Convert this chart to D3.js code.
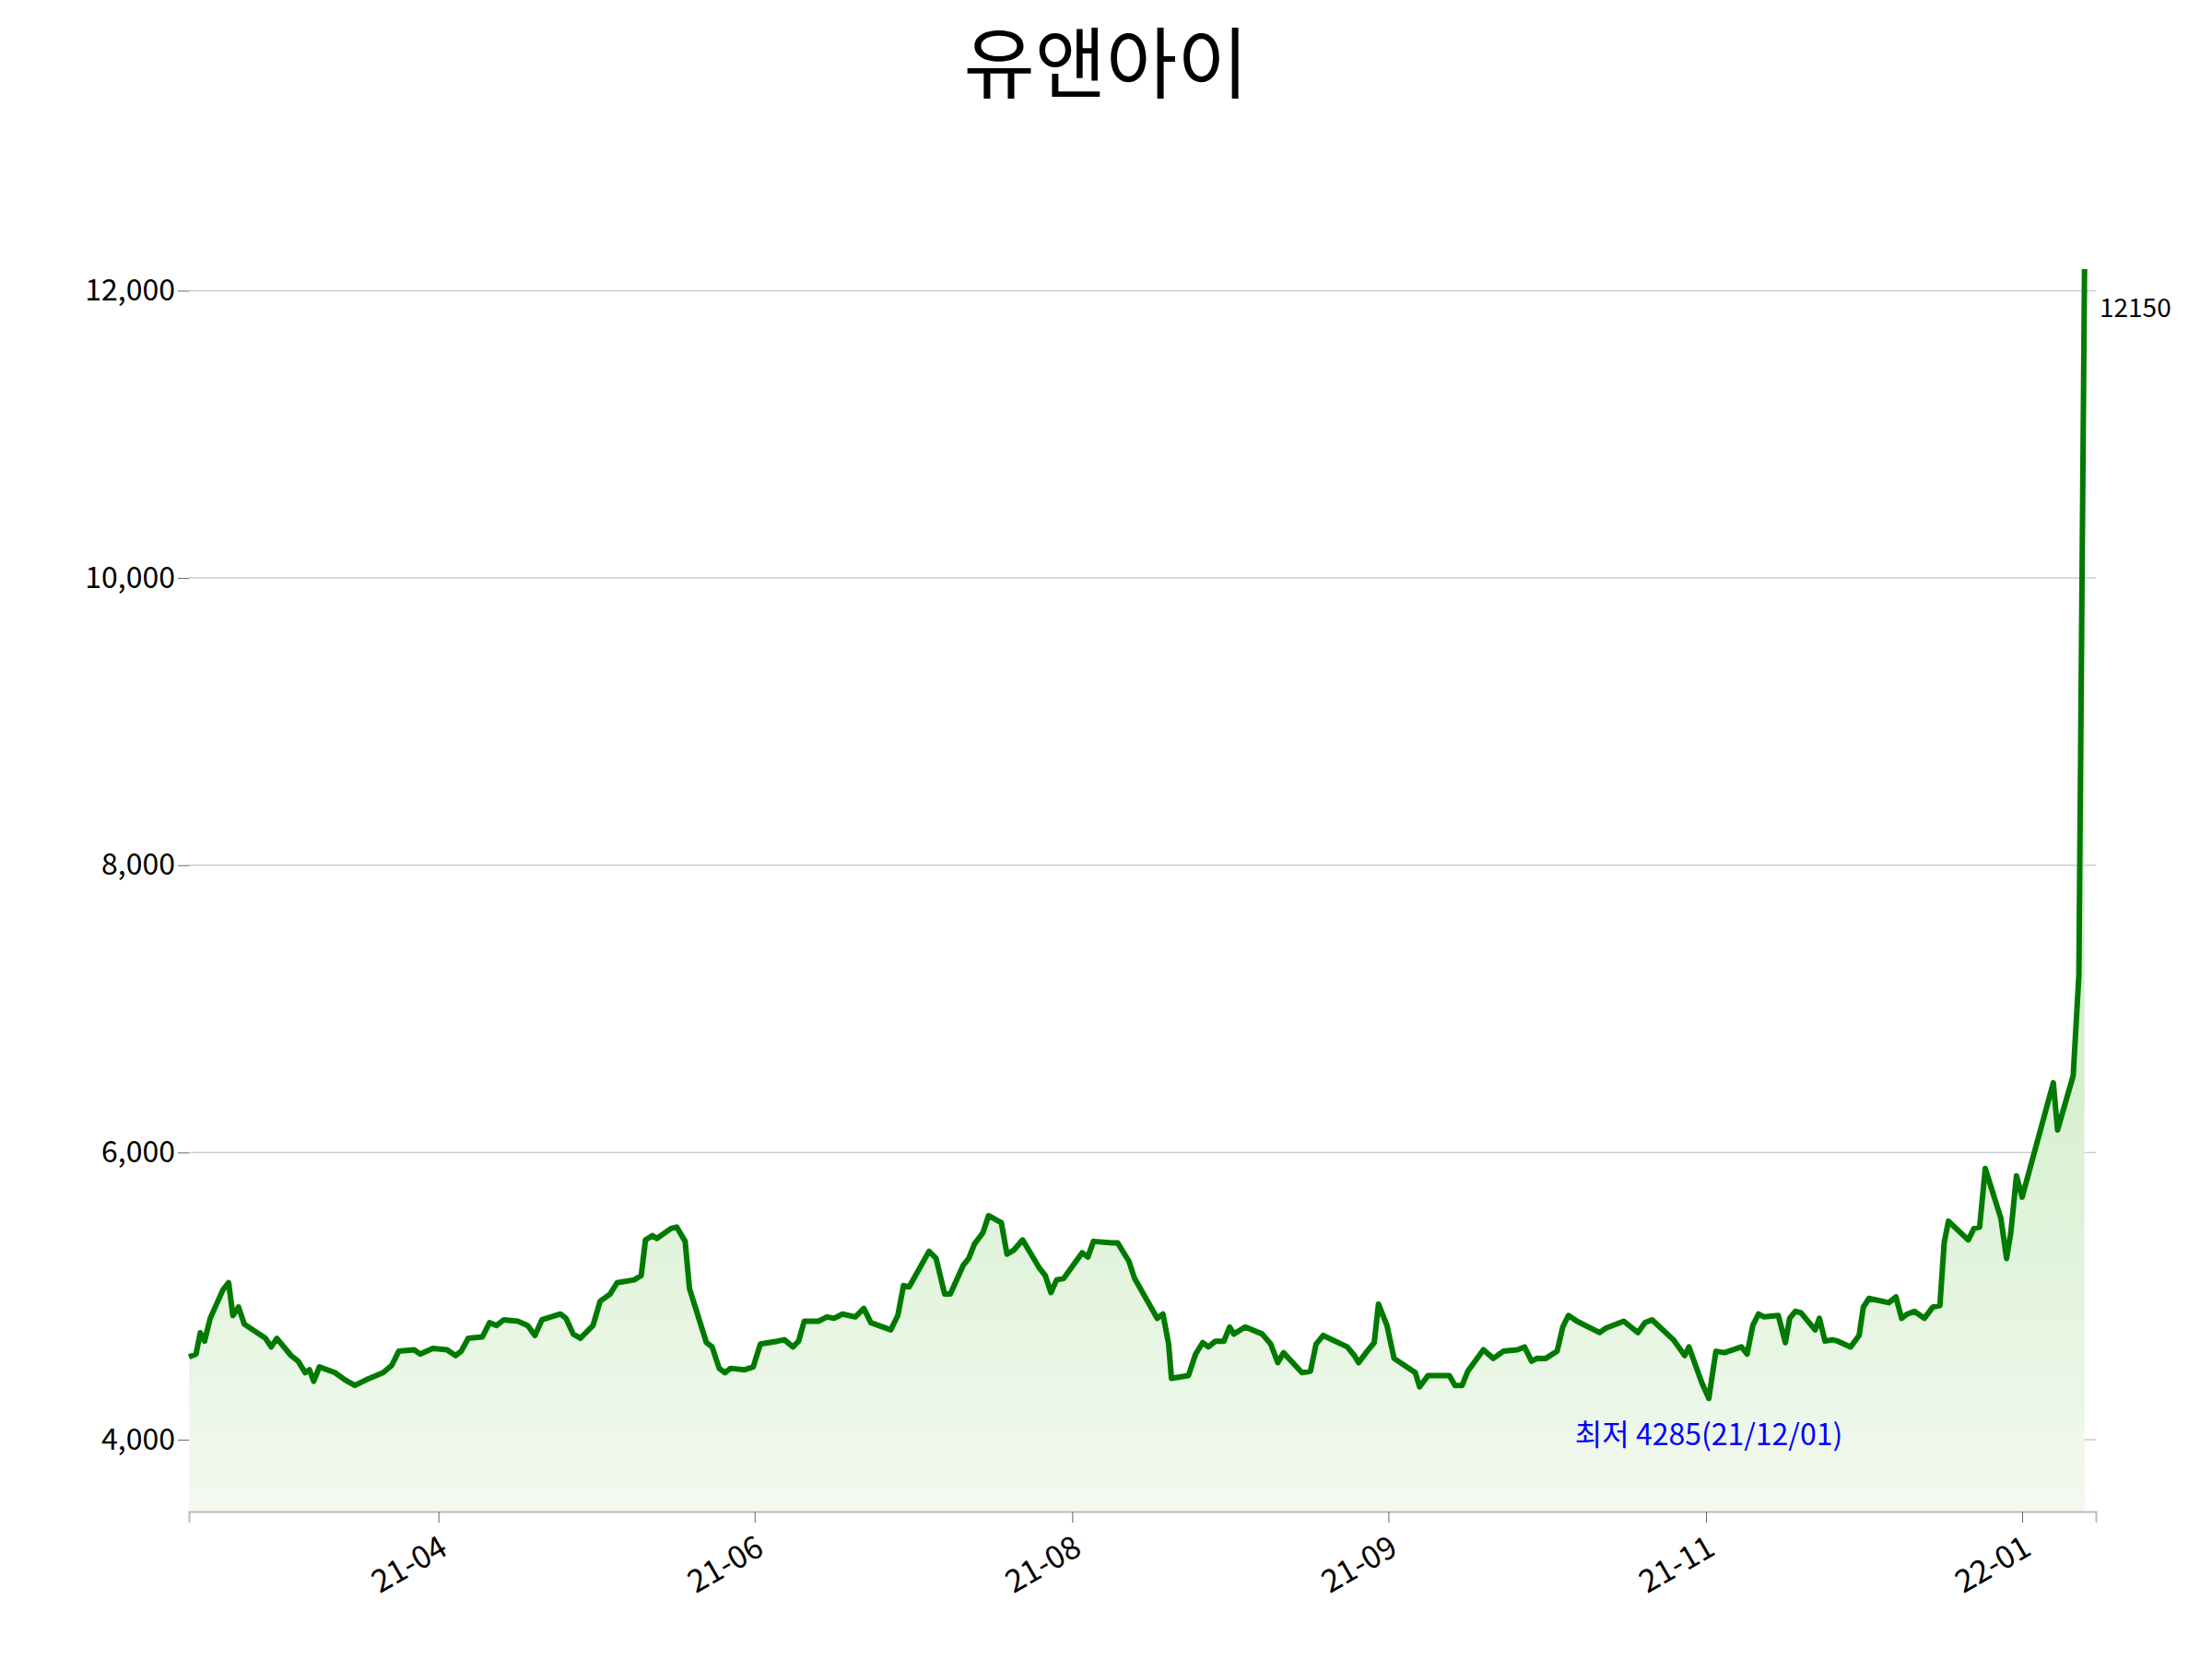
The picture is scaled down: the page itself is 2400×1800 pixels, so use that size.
<!DOCTYPE html><html><head><meta charset="utf-8"><script src="https://d3js.org/d3.v7.min.js"></script>
<style>body{margin:0;background:#fff}text{font-family:"Noto Sans CJK KR","Noto Sans",sans-serif}</style></head><body>
<svg id="c" width="2400" height="1800"></svg>
<script>
const title="유앤아이";
// session positions (0..1345) and closing prices
const t=[0,5,8,11,15,24,28,31,35,39,54,58,62,72,77,82,85,88,92,103,110,117,125,137,143,148,159,163,172,182,188,192,197,207,212,217,222,232,239,244,249,262,266,271,276,285,290,297,302,314,319,322,327,330,340,344,350,353,365,369,374,378,382,392,398,403,415,420,426,430,434,444,450,455,461,470,476,481,495,500,504,508,522,527,533,537,546,550,554,560,564,573,577,582,588,600,604,608,612,617,630,634,638,651,655,663,667,683,687,691,693,705,710,715,719,724,730,734,737,745,757,763,768,772,785,791,795,800,817,822,825,831,836,839,845,850,865,868,874,889,893,898,902,913,920,927,937,942,947,951,957,965,969,973,979,995,999,1004,1012,1022,1027,1032,1047,1055,1058,1067,1072,1077,1083,1095,1099,1103,1107,1111,1121,1126,1129,1133,1137,1147,1150,1154,1159,1163,1172,1178,1181,1185,1199,1204,1208,1212,1217,1224,1230,1235,1238,1241,1255,1259,1263,1267,1278,1282,1285,1289,1293,1315,1318,1329,1333,1337,1345];
const v=[4576,4596,4745,4686,4845,5044,5093,4865,4924,4805,4706,4646,4706,4586,4547,4467,4487,4407,4507,4467,4417,4378,4417,4467,4517,4616,4626,4596,4636,4626,4586,4616,4706,4716,4815,4795,4835,4825,4795,4726,4835,4875,4845,4736,4706,4795,4964,5014,5093,5113,5143,5391,5421,5401,5471,5481,5381,5054,4676,4646,4497,4467,4497,4487,4507,4666,4686,4696,4646,4686,4825,4825,4855,4845,4875,4855,4914,4815,4765,4865,5073,5064,5312,5262,5014,5014,5212,5262,5362,5441,5560,5511,5292,5322,5391,5193,5143,5024,5113,5123,5302,5272,5381,5371,5371,5242,5123,4845,4875,4666,4427,4447,4596,4676,4646,4686,4686,4785,4736,4785,4736,4666,4537,4606,4467,4477,4666,4726,4646,4586,4537,4616,4676,4944,4795,4566,4467,4368,4447,4447,4378,4378,4477,4626,4566,4616,4626,4646,4547,4567,4566,4616,4785,4865,4825,4746,4775,4795,4825,4746,4815,4835,4696,4586,4646,4398,4288,4616,4606,4646,4596,4795,4875,4855,4865,4676,4845,4894,4884,4765,4845,4686,4696,4686,4646,4726,4924,4984,4954,4994,4845,4875,4894,4845,4924,4934,5371,5521,5391,5471,5481,5888,5541,5262,5441,5838,5689,6485,6157,6534,7230,12150];
const yTicks=[4000,6000,8000,10000,12000];
const xTickPos=[176,399,623,846,1070,1293];
const xTickLabels=["21-04","21-06","21-08","21-09","21-11","22-01"];
const minLabel="최저 4285(21/12/01)", maxLabel="12150";

const svg=d3.select("#c"),L=205,R=2274,T=292,B=1640;
const x=d3.scaleLinear().domain([0,1345]).range([L,R]);
const y=d3.scaleLinear().domain([3500,12150]).range([B,T]);
const n=Math.min(t.length,v.length);
const data=d3.range(n).map(i=>[t[i],v[i]]);
const defs=svg.append("defs");
const g=defs.append("linearGradient").attr("id","gr").attr("gradientUnits","userSpaceOnUse")
 .attr("x1",0).attr("x2",0).attr("y1",y(6500)).attr("y2",B);
g.append("stop").attr("offset","0%").attr("stop-color","#d6f0cf");
g.append("stop").attr("offset","100%").attr("stop-color","#f3f9f0");
svg.append("text").attr("x",1200).attr("y",100).attr("text-anchor","middle").attr("font-size",84).text(title);
svg.append("g").selectAll("line").data(yTicks).join("line").attr("x1",L).attr("x2",R)
 .attr("y1",d=>y(d)).attr("y2",d=>y(d)).attr("stroke","#ccc").attr("stroke-width",1.5);
const lineGen=d3.line().x(d=>x(d[0])).y(d=>y(d[1]));
svg.append("path").attr("fill","url(#gr)")
 .attr("d",lineGen(data)+`L${x(data[n-1][0])},${B}L${x(data[0][0])},${B}Z`);
svg.append("path").datum(data).attr("fill","none").attr("stroke","#007a00").attr("stroke-width",6).attr("stroke-linejoin","round")
 .attr("d",lineGen);
const ya=svg.append("g").attr("transform",`translate(${L},0)`).call(d3.axisLeft(y).tickValues(yTicks).tickFormat(d3.format(",")).tickSize(12));
ya.select(".domain").remove();
ya.selectAll("text").attr("font-size",32).attr("fill","#000").attr("font-family","Noto Sans CJK KR");
ya.selectAll("line").attr("stroke","#666");
const xa=svg.append("g").attr("transform",`translate(0,${B})`).call(d3.axisBottom(x).tickValues(xTickPos).tickFormat((d,i)=>xTickLabels[i]).tickSize(12));
xa.select(".domain").attr("stroke","#bbb").attr("stroke-width",2);
xa.selectAll("line").attr("stroke","#666");
xa.selectAll("text").attr("font-size",34).attr("fill","#000").attr("font-family","Noto Sans CJK KR")
 .attr("text-anchor","end").attr("transform","translate(-8,12) rotate(-30)").attr("dy","0.7em");
const mi=v.indexOf(d3.min(v));
svg.append("text").attr("x",x(t[mi])).attr("y",y(4285)+50).attr("text-anchor","middle").attr("fill","#0000ff").attr("font-size",32).text(minLabel);
svg.append("text").attr("x",R+4).attr("y",y(12150)+52).attr("font-size",28).text(maxLabel);
</script></body></html>
